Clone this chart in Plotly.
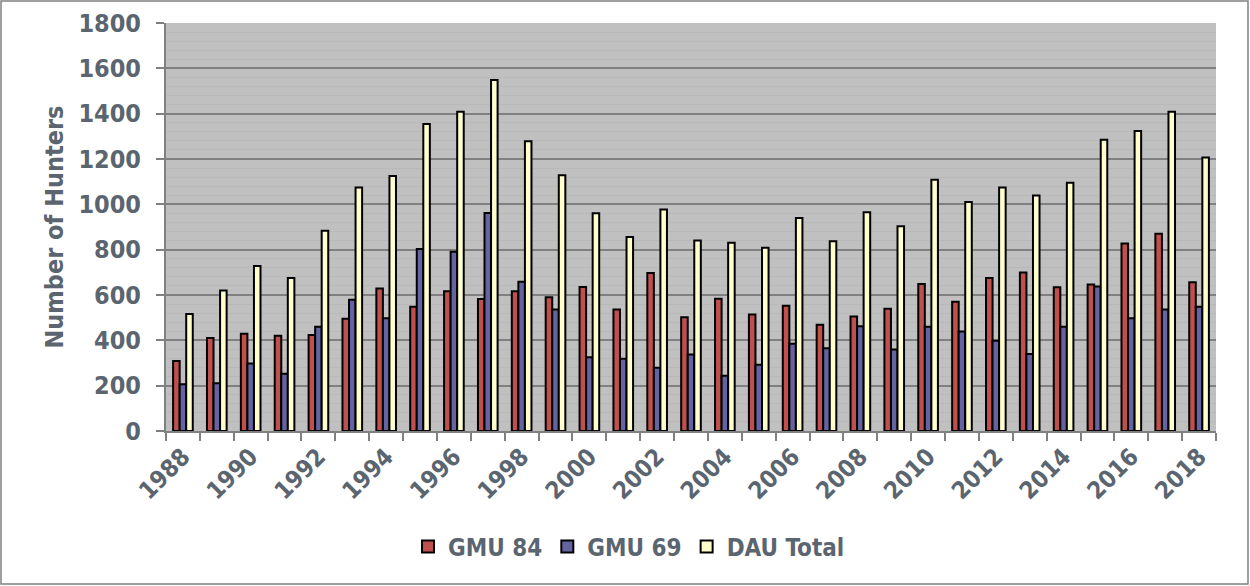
import plotly.graph_objects as go

years = list(range(1988, 2019))
gmu84 = [309, 410, 429, 420, 424, 495, 629, 548, 617, 582, 616, 590, 635, 536, 697, 502,
         583, 514, 553, 469, 505, 539, 648, 570, 675, 699, 634, 646, 827, 870, 656]
gmu69 = [206, 211, 298, 253, 460, 579, 497, 803, 791, 962, 659, 536, 325, 319, 279, 338,
         244, 292, 385, 365, 462, 360, 460, 439, 398, 340, 460, 638, 497, 536, 548]
dau_total = [516, 620, 728, 675, 884, 1074, 1125, 1354, 1409, 1548, 1278, 1128, 961, 856, 977, 840,
             830, 809, 940, 837, 965, 903, 1108, 1010, 1074, 1039, 1095, 1285, 1324, 1408, 1207]
tick_years = list(range(1988, 2019, 2))

FONT = "DejaVu Sans Condensed, DejaVu Sans, sans-serif"
TXT = "#5A6570"

W, H = 1250, 586
L, R, T, B = 166, 34, 23, 155
PW, PH = W - L - R, H - T - B

fig = go.Figure()
for name, vals, col in [("GMU 84", gmu84, "#C0504D"),
                        ("GMU 69", gmu69, "#6464A2"),
                        ("DAU Total", dau_total, "#FFFFCC")]:
    fig.add_trace(go.Bar(x=years, y=vals, name=name,
                         marker=dict(color=col, line=dict(color="black", width=2))))

fig.update_layout(
    width=W, height=H,
    margin=dict(l=L, r=R, t=T, b=B, autoexpand=False),
    paper_bgcolor="white", plot_bgcolor="#C0C0C0",
    barmode="group", bargap=0.42, bargroupgap=0,
    font=dict(family=FONT, color=TXT, size=22),
    showlegend=True,
    legend=dict(orientation="h", x=(629 - L) / PW, xanchor="center",
                y=(H - B - 547) / PH, yanchor="middle",
                font=dict(family=FONT, size=24, color=TXT, weight="bold"),
                bgcolor="rgba(0,0,0,0)", itemwidth=30, tracegroupgap=0),
    xaxis=dict(range=[1987.5, 2018.5], tickmode="array", tickvals=tick_years,
               ticktext=[str(y) for y in tick_years], tickangle=-45,
               tickfont=dict(family=FONT, size=24, color=TXT, weight="bold"),
               ticks="", showgrid=False, showline=True, linecolor="#808080", linewidth=2,
               minor=dict(ticks="outside", tick0=1987.5, dtick=1, ticklen=8,
                          tickcolor="#808080", tickwidth=2, showgrid=False),
               zeroline=False),
    yaxis=dict(range=[0, 1800], dtick=200,
               tickfont=dict(family=FONT, size=25, color=TXT, weight="bold"),
               ticks="outside", ticklen=8, tickcolor="#808080", tickwidth=2,
               ticklabelstandoff=10,
               showline=True, linecolor="#808080", linewidth=2,
               gridcolor="#808080", gridwidth=1.5, zeroline=False,
               minor=dict(dtick=40, showgrid=True, gridcolor="#B9B9B9", gridwidth=1),
               title=dict(text="Number of Hunters", standoff=8,
                          font=dict(family=FONT, size=25, color=TXT, weight="bold"))),
    shapes=[dict(type="rect", xref="paper", yref="paper",
                 x0=(1 - L) / PW, x1=(1248 - L) / PW,
                 y0=(H - B - 584) / PH, y1=(H - B - 1) / PH,
                 line=dict(color="#808080", width=1.5), fillcolor="rgba(0,0,0,0)", layer="below")],
)

fig.write_html("out.html", config={"displayModeBar": False},
               post_script="document.body.style.margin='0';")
